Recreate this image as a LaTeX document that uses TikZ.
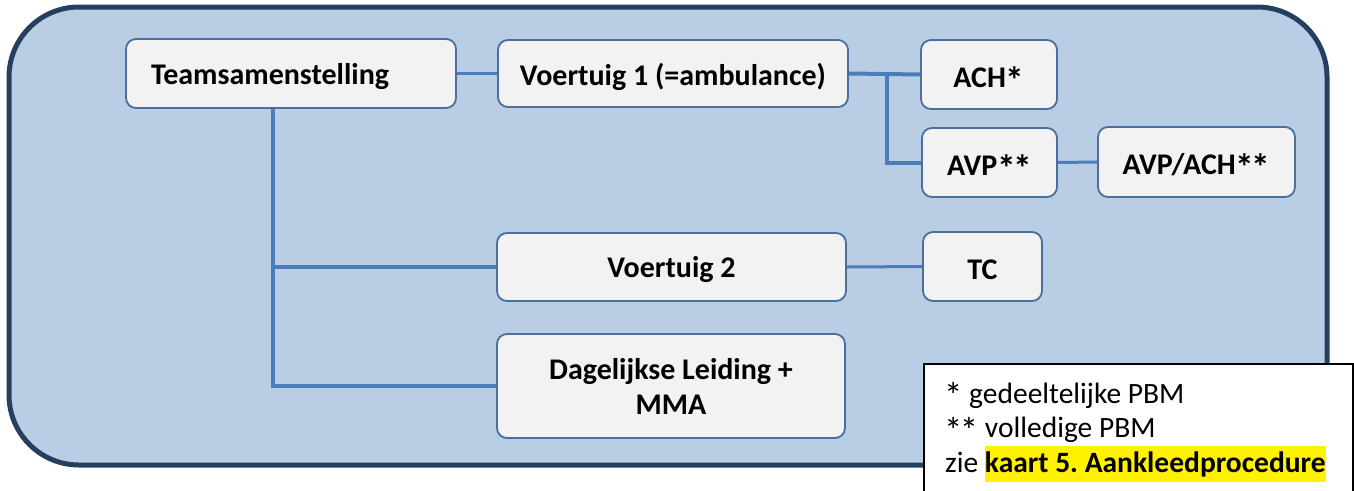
\documentclass[tikz,border=0pt]{standalone}
\usepackage{fontspec}
\usepackage{graphicx}
\setmainfont{Carlito}
\definecolor{framecol}{HTML}{243F60}
\definecolor{bgcol}{HTML}{B9CDE5}
\definecolor{boxfill}{HTML}{F2F2F2}
\definecolor{boxline}{HTML}{4A6F9C}
\definecolor{linkcol}{HTML}{4A7EBB}
\newcommand\lbl[1]{\raisebox{-3pt}[\height][\depth]{#1}}
\newcommand\bigast{\raisebox{-0.2em}[0.64em][0pt]{\scalebox{1.25}{*}}}
\newcommand\twoast{\bigast\kern-0.09em\bigast}
\tikzset{
  stepbox/.style={draw=boxline, line width=1.8pt, fill=boxfill, rounded corners=10pt,
    inner sep=0pt, font=\fontsize{30}{35}\selectfont\bfseries, align=center},
  link/.style={draw=linkcol, line width=4pt},
  thinlink/.style={draw=linkcol, line width=3pt},
  legendtext/.style={anchor=base west, inner sep=0pt, font=\fontsize{29.5}{34}\selectfont}
}
\frenchspacing
\begin{document}
\begin{tikzpicture}[x=1pt,y=-1pt]
\useasboundingbox (0,0) rectangle (1354,490);
\fill[white] (0,0) rectangle (1354,490);
% outer frame
\draw[framecol, line width=5pt, fill=bgcol, rounded corners=70pt] (9,7) rectangle (1327,465);

% boxes
\node[stepbox, minimum width=330pt, minimum height=69pt, text width=280pt, align=left, inner xsep=25pt] (team) at (291,73.5) {\lbl{Teamsamenstelling}};
\node[stepbox, minimum width=350pt, minimum height=67pt] (v1) at (673,73.5) {\lbl{Voertuig 1 (=ambulance)}};
\node[stepbox, minimum width=136pt, minimum height=69pt] (ach) at (989,74.5) {\lbl{ACH\bigast}};
\node[stepbox, minimum width=135pt, minimum height=69pt] (avp) at (989.5,162.5) {\lbl{AVP\twoast}};
\node[stepbox, minimum width=197pt, minimum height=70pt] (avpach) at (1196.5,162) {\lbl{AVP/ACH\twoast}};
\node[stepbox, minimum width=349pt, minimum height=68pt] (v2) at (671.5,267) {\lbl{Voertuig 2}};
\node[stepbox, minimum width=119pt, minimum height=69pt] (tc) at (982.5,266.5) {\lbl{TC}};
\node[stepbox, minimum width=348pt, minimum height=104pt] (dl) at (671,386) {Dagelijkse Leiding +\\MMA};

% connectors
\coordinate (tj) at (273,109);
\coordinate (vj) at (887,75);
\draw[thinlink] (team.east) -- (v1.west);
\draw[link] (v1.east) -- (ach.west);
\draw[link] (vj) |- (avp.west);
\draw[thinlink] (avp.east) -- (avpach.west);
\draw[link] (tj) |- (dl.west);
\draw[link] (tj |- v2.west) -- (v2.west);
\draw[thinlink] (v2.east) -- (tc.west);

% legend
\node[draw=black, line width=1.5pt, fill=white, anchor=north west, minimum width=429pt, minimum height=150pt, inner sep=0pt] (legend) at (923,363) {};
\node[legendtext] (l1) at (944,403) {\bigast{} gedeeltelijke PBM};
\node[legendtext] (l2) at (944,437.5) {\twoast{} volledige PBM};
\node[legendtext] (l3) at (945,472) {zie {\setlength{\fboxsep}{0pt}\colorbox{yellow}{\rule[-10pt]{0pt}{36pt}\textbf{kaart 5. Aankleedprocedure}}}};
\end{tikzpicture}
\end{document}
